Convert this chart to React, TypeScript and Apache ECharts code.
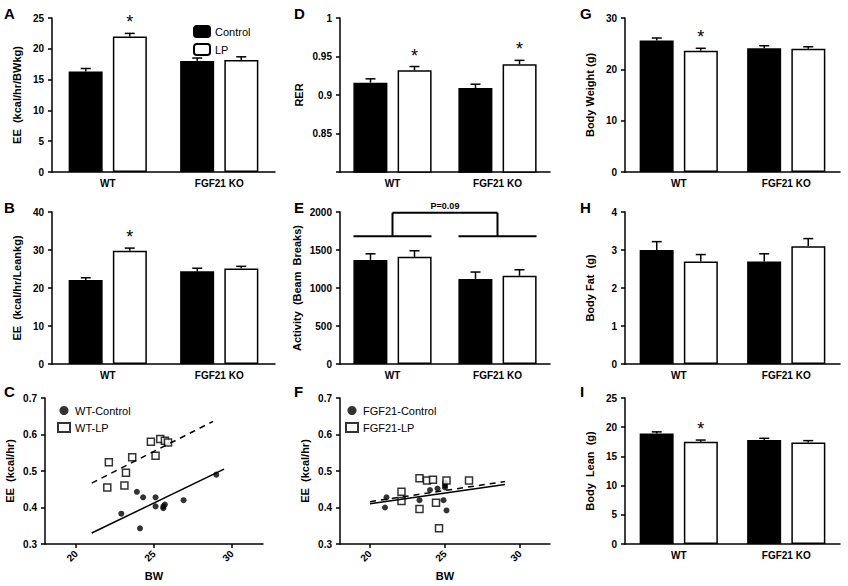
import { useEffect, useRef } from 'react';
import * as echarts from 'echarts';

const groups = ['WT', 'FGF21 KO'];
// [control, LP] per group, errors, significance
const eeBW = [[16.3, 22.0], [18.0, 18.2]];
const eeBWErr = [[0.5, 0.5], [0.5, 0.5]];
const eeLean = [[22.1, 29.8], [24.4, 25.1]];
const eeLeanErr = [[0.6, 0.7], [0.8, 0.6]];
const rer = [[0.916, 0.932], [0.909, 0.940]];
const rerErr = [[0.005, 0.005], [0.005, 0.005]];
const activity = [[1370, 1410], [1120, 1160]];
const activityErr = [[80, 80], [90, 80]];
const bodyWeight = [[25.6, 23.6], [24.1, 24.0]];
const bodyWeightErr = [[0.5, 0.5], [0.5, 0.4]];
const bodyFat = [[3.0, 2.7], [2.7, 3.1]];
const bodyFatErr = [[0.22, 0.18], [0.2, 0.2]];
const bodyLean = [[18.9, 17.5], [17.8, 17.4]];
const bodyLeanErr = [[0.3, 0.3], [0.3, 0.3]];
const stars = [[false, true], [false, false]];
const starsRer = [[false, true], [false, true]];
const noStars = [[false, false], [false, false]];

const wtControl = [[22.9, 0.383], [24.1, 0.343], [23.9, 0.443], [24.3, 0.428], [25.1, 0.428], [25.1, 0.403], [25.6, 0.403], [25.6, 0.398], [25.7, 0.408], [26.9, 0.42], [29.0, 0.49]];
const wtLP = [[22.1, 0.524], [22.0, 0.455], [23.1, 0.46], [23.2, 0.495], [23.6, 0.538], [24.8, 0.58], [25.1, 0.542], [25.4, 0.588], [25.7, 0.583], [25.9, 0.578]];
const wtControlFit = [[21.0, 0.33], [29.5, 0.505]];
const wtLPFit = [[21.0, 0.467], [28.8, 0.636]];
const koControl = [[21.1, 0.428], [21.0, 0.4], [23.3, 0.42], [24.0, 0.448], [24.5, 0.452], [25.0, 0.455], [25.0, 0.468], [24.9, 0.42], [25.1, 0.392], [25.0, 0.46]];
const koLP = [[22.1, 0.443], [22.1, 0.418], [23.3, 0.48], [23.8, 0.474], [24.2, 0.476], [24.4, 0.413], [25.1, 0.474], [23.3, 0.396], [24.6, 0.343], [26.6, 0.474]];
const koControlFit = [[20.0, 0.41], [29.0, 0.463]];
const koLPFit = [[20.0, 0.416], [29.0, 0.471]];

const FONT = 'Arial, Liberation Sans, sans-serif';
const BAR_W = 34;
const OFF = 22;

const cols = [52, 340, 625];
const widths = [223, 210, 215];
const tops = [18, 212, 398];
const heights = [154, 152, 146];

export default function App() {
  const ref = useRef<HTMLDivElement>(null);

  useEffect(() => {
    document.body.style.margin = '0';
    if (!ref.current) return;
    const chart = echarts.init(ref.current, undefined, { renderer: 'svg' });

    const grid: any[] = [];
    const xAxis: any[] = [];
    const yAxis: any[] = [];
    const series: any[] = [];

    const axisText = { color: '#000', fontWeight: 'bold', fontSize: 10, fontFamily: FONT };
    const nameText = { color: '#000', fontWeight: 'bold', fontSize: 11, fontFamily: FONT };
    const line = { lineStyle: { color: '#000', width: 1.5 } };

    const barPanel = (idx: number, col: number, row: number, vals: number[][], errs: number[][], st: boolean[][],
      name: string, min: number, max: number, interval: number, hideMin = false, nameGap = 30) => {
      grid.push({ left: cols[col], top: tops[row], width: widths[col], height: heights[row] });
      xAxis.push({
        type: 'category', gridIndex: idx, data: groups,
        axisLine: line, axisTick: { show: false }, axisLabel: { ...axisText, margin: 6 },
      });
      yAxis.push({
        type: 'value', gridIndex: idx, min, max, interval, name, nameLocation: 'middle', nameGap,
        nameTextStyle: nameText, splitLine: { show: false }, axisLine: { show: true, ...line },
        axisTick: { show: true, lineStyle: { color: '#000', width: 1.5 }, length: 4 },
        axisLabel: { ...axisText, formatter: (v: number) => (hideMin && v === min ? '' : String(+v.toFixed(2))) },
      });
      ['Control', 'LP'].forEach((s, k) => {
        series.push({
          name: s, type: 'bar', xAxisIndex: idx, yAxisIndex: idx, barWidth: BAR_W, barGap: '30%',
          data: vals.map(v => v[k]),
          itemStyle: { color: k === 0 ? '#000' : '#fff', borderColor: '#000', borderWidth: 1.5 },
        });
      });
      const eb: any[] = [];
      vals.forEach((v, g) => v.forEach((val, k) => eb.push([g, val, errs[g][k], st[g][k] ? 1 : 0, k === 0 ? -1 : 1])));
      series.push({
        type: 'custom', xAxisIndex: idx, yAxisIndex: idx, data: eb, encode: { x: 0, y: 1 }, z: 10,
        renderItem: (_p: any, api: any) => {
          const c = api.value(0), v = api.value(1), e = api.value(2);
          const x = api.coord([c, v])[0] + api.value(4) * OFF;
          const y0 = api.coord([c, v])[1];
          const y1 = api.coord([c, v + e])[1];
          const children: any[] = [
            { type: 'line', shape: { x1: x, y1: y0, x2: x, y2: y1 }, style: { stroke: '#000', lineWidth: 1.5 } },
            { type: 'line', shape: { x1: x - 5, y1: y1, x2: x + 5, y2: y1 }, style: { stroke: '#000', lineWidth: 1.5 } },
          ];
          if (api.value(3)) {
            children.push({ type: 'text', style: { x, y: y1 - 2, text: '*', fontSize: 18, fontFamily: FONT, fill: '#000', align: 'center', verticalAlign: 'bottom' } });
          }
          return { type: 'group', children };
        },
      });
    };

    const scatterPanel = (idx: number, col: number, names: string[], ctl: number[][], lp: number[][], cf: number[][], lf: number[][]) => {
      grid.push({ left: cols[col] - (col === 0 ? 7 : 0), top: tops[2], width: col === 0 ? 218 : 210, height: heights[2] });
      xAxis.push({
        type: 'value', gridIndex: idx, min: 18, max: 32, name: 'BW', nameLocation: 'middle', nameGap: 26,
        nameTextStyle: nameText, splitLine: { show: false }, axisLine: line,
        axisTick: { show: true, customValues: [20, 25, 30], lineStyle: { color: '#000', width: 1.5 }, length: 4 },
        axisLabel: { ...axisText, rotate: 45, customValues: [20, 25, 30] },
      });
      yAxis.push({
        type: 'value', gridIndex: idx, min: 0.3, max: 0.7, interval: 0.1, name: 'EE  (kcal/hr)', nameLocation: 'middle', nameGap: 30,
        nameTextStyle: nameText, splitLine: { show: false }, axisLine: line,
        axisTick: { show: true, lineStyle: { color: '#000', width: 1.5 }, length: 4 },
        axisLabel: { ...axisText, formatter: (v: number) => v.toFixed(1) },
      });
      series.push({ name: names[0], type: 'scatter', xAxisIndex: idx, yAxisIndex: idx, data: ctl, symbol: 'circle', symbolSize: 6, itemStyle: { color: '#000' } });
      series.push({ name: names[1], type: 'scatter', xAxisIndex: idx, yAxisIndex: idx, data: lp, symbol: 'rect', symbolSize: 7, itemStyle: { color: '#fff', borderColor: '#000', borderWidth: 1.5 } });
      series.push({ type: 'line', xAxisIndex: idx, yAxisIndex: idx, data: cf, symbol: 'none', lineStyle: { color: '#000', width: 1.5 } });
      series.push({ type: 'line', xAxisIndex: idx, yAxisIndex: idx, data: lf, symbol: 'none', lineStyle: { color: '#000', width: 1.5, type: [6, 5] } });
    };

    barPanel(0, 0, 0, eeBW, eeBWErr, stars, 'EE  (kcal/hr/BWkg)', 0, 25, 5);
    barPanel(1, 0, 1, eeLean, eeLeanErr, stars, 'EE  (kcal/hr/Leankg)', 0, 40, 10);
    scatterPanel(2, 0, ['WT-Control', 'WT-LP'], wtControl, wtLP, wtControlFit, wtLPFit);
    barPanel(3, 1, 0, rer, rerErr, starsRer, 'RER', 0.8, 1.0, 0.05, true, 36);
    barPanel(4, 1, 1, activity, activityErr, noStars, 'Activity  (Beam  Breaks)', 0, 2000, 500, false, 38);
    scatterPanel(5, 1, ['FGF21-Control', 'FGF21-LP'], koControl, koLP, koControlFit, koLPFit);
    barPanel(6, 2, 0, bodyWeight, bodyWeightErr, stars, 'Body Weight (g)', 0, 30, 10);
    barPanel(7, 2, 1, bodyFat, bodyFatErr, noStars, 'Body Fat  (g)', 0, 4, 1);
    barPanel(8, 2, 2, bodyLean, bodyLeanErr, stars, 'Body  Lean  (g)', 0, 25, 5);

    // P=0.09 bracket on the activity panel
    series.push({
      type: 'custom', xAxisIndex: 4, yAxisIndex: 4, data: [[0, 1680, 1], [1, 1680, 1]], encode: { x: 0, y: 1 }, z: 10,
      renderItem: (p: any, api: any) => {
        if (p.dataIndex !== 0) return null;
        const s = { stroke: '#000', lineWidth: 2 };
        const a = api.coord([0, 1680]), b = api.coord([1, 1680]);
        const top = api.coord([0, 1990])[1];
        const half = OFF + BAR_W / 2;
        return {
          type: 'group', children: [
            { type: 'line', shape: { x1: a[0] - half, y1: a[1], x2: a[0] + half, y2: a[1] }, style: s },
            { type: 'line', shape: { x1: b[0] - half, y1: b[1], x2: b[0] + half, y2: b[1] }, style: s },
            { type: 'line', shape: { x1: a[0], y1: a[1], x2: a[0], y2: top }, style: s },
            { type: 'line', shape: { x1: b[0], y1: b[1], x2: b[0], y2: top }, style: s },
            { type: 'line', shape: { x1: a[0], y1: top, x2: b[0], y2: top }, style: s },
            { type: 'text', style: { x: (a[0] + b[0]) / 2, y: top - 2, text: 'P=0.09', fontSize: 9, fontWeight: 'bold', fontFamily: FONT, fill: '#000', align: 'center', verticalAlign: 'bottom' } },
          ],
        };
      },
    });

    const legendText = { fontSize: 11, fontFamily: FONT, color: '#000' };
    const letters = [
      ['A', 4, 6], ['B', 4, 200], ['C', 4, 384],
      ['D', 294, 6], ['E', 294, 200], ['F', 294, 384],
      ['G', 580, 6], ['H', 580, 200], ['I', 580, 384],
    ];

    chart.setOption({
      animation: false,
      backgroundColor: '#fff',
      textStyle: { fontFamily: FONT },
      grid, xAxis, yAxis, series,
      legend: [
        { data: ['Control', 'LP'], orient: 'vertical', left: 188, top: 20, itemWidth: 16, itemHeight: 11, itemGap: 5, textStyle: legendText },
        { data: ['WT-Control', 'WT-LP'], orient: 'vertical', left: 52, top: 400, itemWidth: 12, itemHeight: 9, itemGap: 6, textStyle: legendText },
        { data: ['FGF21-Control', 'FGF21-LP'], orient: 'vertical', left: 340, top: 400, itemWidth: 12, itemHeight: 9, itemGap: 6, textStyle: legendText },
      ],
      graphic: letters.map(([t, x, y]) => ({
        type: 'text', left: x, top: y, style: { text: t, fontSize: 15, fontWeight: 'bold', fontFamily: FONT, fill: '#000' },
      })),
    });

    return () => chart.dispose();
  }, []);

  return <div ref={ref} style={{ width: 848, height: 586 }} />;
}
